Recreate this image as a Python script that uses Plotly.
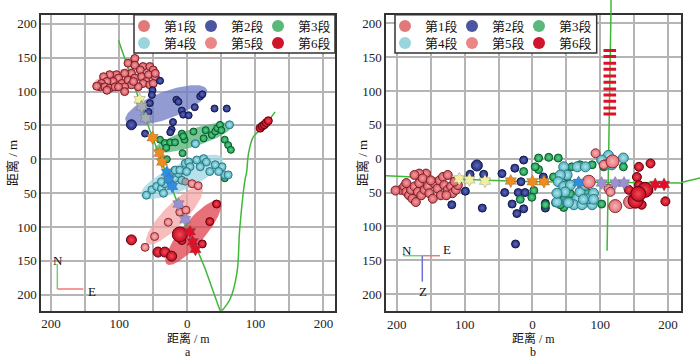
import numpy as np
import plotly.graph_objects as go

# ================= DATA =================
STAGES = ["第1段", "第2段", "第3段", "第4段", "第5段", "第6段"]

# ---- panel a (plan view), metres ----
a_well1_x = [-101, -96, -55, -16, 26, 49]
a_well1_y = [176, 161, 43, -60, -161, -226]
a_well2_x = [49, 63, 73, 77, 85, 87, 90, 97, 112, 129]
a_well2_y = [-226, -206, -167, -103, -29, -20, 9, 33, 48, 70]

a1_x = [-77, -87, -77, -65, -55, -50, -69, -82, -92, -104, -114, -123, -101, -109, -118, -126, -128, -121, -114, -106,
        -96, -87, -77, -67, -57, -47, -60, -65, -55, -50, -72, -82, -92, -101, -118, -92, -79, -47, -133]
a1_y = [149, 142, 139, 137, 137, 132, 132, 127, 127, 125, 125, 122, 120, 115, 115, 112, 107, 107, 105, 107,
        112, 117, 120, 122, 125, 122, 115, 112, 110, 112, 107, 110, 107, 107, 102, 100, 115, 127, 108]
a2_x = [-40, -51, -52, -55, -57, -62, -16, -13, 19, 22, 11, -8, -6, 2, -21, -23, -25, 40, 58]
a2_y = [116, 102, 95, 83, 70, 38, 88, 85, 93, 96, 77, 72, 66, 65, 55, 44, 40, 75, 75]
a2_big_x = [-82]
a2_big_y = [51]
a3_x = [-40, -33, -25, -18, -8, -4, -7, 9, 11, 24, 27, 36, 41, 44, 48, 50, 55, 60, 64, -31, -30, 55, -6]
a3_y = [29, 24, 25, 25, 38, 29, 9, 41, 23, 31, 43, 36, 41, 46, 51, 43, 29, 21, 14, 17, 0, -28, 34]
a4_x = [-60, -52, -45, -38, -33, -38, -25, -18, -13, -18, -11, -3, 2, 14, 24, 28, 19, 33, 51, 55,
        41, 4, -1, -8, -35, 46, 60, 12, 62]
a4_y = [-53, -45, -40, -43, -36, -33, -31, -28, -21, -16, -16, -6, -4, -1, 1, -4, -11, -18, -11, -23,
        -8, -11, -18, -31, -50, -18, -23, 23, 51]
a_grey_x = [-3]
a_grey_y = [-33]
a5_x = [-11, -2, -28, -48, -62, 7, 16]
a5_y = [-78, -75, -93, -114, -130, -36, -39]
a6_x = [43, 33, 22, -8, 107, 110, 113, 116, 119]
a6_y = [-66, -92, -125, -120, 46, 49, 51, 54, 57]
a6_big_x = [-82, -43, -33, -23]
a6_big_y = [-119, -137, -137, -143]
a6_huge_x = [-11]
a6_huge_y = [-111]

# ellipses per stage: centre x, centre y, semi-major, semi-minor, angle (deg)
a_ell_cx = [-91, -31, 9, -8, -19, 9]
a_ell_cy = [120, 80, 32, -26, -83, -108]
a_ell_a = [49, 64, 60, 66, 58, 61]
a_ell_b = [14, 20, 13, 19, 16, 17]
a_ell_ang = [13, 21, 18, 25, 46, 50]

# perforation clusters along the well (panel a)
a_star_yellow_x, a_star_yellow_y = [-70], [88]
a_star_grey_x, a_star_grey_y = [-67, -61], [78, 61]
a_star_orange_x, a_star_orange_y = [-51, -41, -37], [32, 9, -4]
a_star_blue_x, a_star_blue_y = [-30, -27, -22], [-19, -30, -40]
a_star_purple_x, a_star_purple_y = [-13, -3], [-66, -89]
a_star_red_x, a_star_red_y = [4, 8, 12], [-107, -122, -133]

# ---- panel b (vertical section), metres ----
b_well1_x = [-216, -177, -120, -68, 6, 219]
b_well1_y = [-25, -27, -29, -32, -34, -36]
b_well2_x = [116, 110]
b_well2_y = [234, -136]
b_perf_x = [114] * 11
b_perf_y = [160, 151, 141, 132, 122, 113, 103, 94, 85, 75, 66]

b1_x = [-194, -189, -186, -182, -177, -172, -179, -174, -169, -167, -164, -159, -154, -152, -147, -145, -140, -137,
        -132, -130, -125, -125, -120, -118, -113, -110, -157, -167, -174, -135, -127, -186, -162, -150, -115, -202]
b1_y = [-46, -41, -49, -54, -59, -64, -46, -41, -49, -36, -54, -46, -41, -51, -59, -36, -44, -32,
        -27, -39, -24, -46, -41, -51, -46, -39, -22, -22, -24, -54, -54, -36, -29, -32, -34, -47]
b2_x = [-92, -72, -45, -26, -13, -99, -119, -74, -41, -30, -23, -25, -13, -21, -11, 19, 37, 16, -17, 19]
b2_y = [-23, -23, -22, -14, -2, -48, -68, -73, -50, -67, -81, -126, -74, -50, -50, -73, -52, -27, -34, -66]
b2_big_x = [-82]
b2_big_y = [-10]
b3_x = [-13, 9, 24, 38, 9, 48, 58, 70, 88, 105, 134, 2, -18, -1, 19, 34, 46, 46, 56, 80, 102, 60, 4, 31, 51, 75, 41]
b3_y = [-19, 1, 2, 1, -16, -17, -12, -9, -9, -12, -12, -47, -60, -57, -68, -65, -72, -60, -52, -50, -67, -67,
        -12, -27, -27, -61, -68]
b4_x = [46, 51, 41, 38, 46, 56, 66, 78, 112, 134, 117, 66, 51, 36, 61, 73, 88, 83, 48, 36, 70, 78, 90, 102, 107,
        53, 75, 90]
b4_y = [-12, -24, -24, -34, -41, -39, -12, -12, 5, 1, -9, -59, -64, -64, -68, -68, -68, -59, -49, -51, -49, -39,
        -51, -2, -9, -65, -60, -60]
b5_x = [93, 105, 112, 115]
b5_y = [8, -9, -44, -49]
b5_big_x = [118, 83, 122, 144]
b5_big_y = [-4, -34, -70, -64]
b6_x = [157, 174, 154, 157, 161, 196, 142, 171]
b6_y = [-12, -7, -27, -39, -68, -63, -46, -47]
b6_big_x = [166, 152, 156]
b6_big_y = [-46, -62, -52]

b_star_yellow_x, b_star_yellow_y = [-108, -93, -70], [-30, -31, -33]
b_star_orange_x, b_star_orange_y = [-32, 0, 17], [-33, -34, -34]
b_star_blue_x, b_star_blue_y = [68], [-35]
b_star_purple_x, b_star_purple_y = [102, 122, 135], [-36, -36, -36]
b_star_red_x, b_star_red_y = [181, 194], [-38, -38]

xtick_vals = [-200, -150, -100, -50, 0, 50, 100, 150, 200]
xtick_text = ["200", "", "100", "", "0", "", "100", "", "200"]
ytick_vals = [-200, -150, -100, -50, 0, 50, 100, 150, 200]
ytick_text = ["200", "150", "100", "50", "0", "50", "100", "150", "200"]

# ================= STYLE =================
FONT = "Liberation Serif, Noto Sans CJK SC, serif"
W, H = 700, 358

# (edge/base colour, highlight colour, outline colour)
STAGE_STYLE = [
    ("#d45560", "#f4a0a0", "#7a1e28"),
    ("#242e7c", "#5c68ba", "#12184c"),
    ("#17984e", "#60d08c", "#0b5a2c"),
    ("#52b2c0", "#b0e6ec", "#2a7a84"),
    ("#e2707a", "#f8b4b4", "#8a2a34"),
    ("#c40a20", "#f24a56", "#640010"),
]
LEGEND_COLORS = ["#e07a7a", "#4a56a0", "#5ab87a", "#9ad4dc", "#ea8686", "#d0142c"]
ELL_COLORS = ["rgba(244,170,170,0.75)", "rgba(110,122,195,0.75)", "rgba(80,178,115,0.75)",
              "rgba(160,214,228,0.75)", "rgba(244,160,160,0.7)", "rgba(224,64,76,0.75)"]


def px(x):
    return x / W


def py(y):
    return 1 - y / H


fig = go.Figure()


def ellipse(cx, cy, a, b, ang):
    t = np.linspace(0, 2 * np.pi, 120)
    th = np.deg2rad(ang)
    ex = cx + a * np.cos(t) * np.cos(th) - b * np.sin(t) * np.sin(th)
    ey = cy + a * np.cos(t) * np.sin(th) + b * np.sin(t) * np.cos(th)
    return ex, ey


def pts(x, y, stage, size, xa, ya):
    base, hi, line = STAGE_STYLE[stage]
    fig.add_trace(go.Scatter(
        x=x, y=y, mode="markers", xaxis=xa, yaxis=ya, showlegend=False, hoverinfo="skip",
        marker=dict(size=size, color=base, gradient=dict(type="radial", color=hi),
                    line=dict(color=line, width=1))))


def stars(x, y, color, xa, ya):
    fig.add_trace(go.Scatter(
        x=x, y=y, mode="markers", xaxis=xa, yaxis=ya, showlegend=False, hoverinfo="skip",
        marker=dict(symbol="hexagram", size=10, color=color, line=dict(color="rgba(80,80,80,0.5)", width=0.6))))


WELL = dict(color="#3fb838", width=1.5)

# ---------- panel a ----------
for i in range(6):
    ex, ey = ellipse(a_ell_cx[i], a_ell_cy[i], a_ell_a[i], a_ell_b[i], a_ell_ang[i])
    fig.add_trace(go.Scatter(x=ex, y=ey, mode="lines", fill="toself", fillcolor=ELL_COLORS[i],
                             line=dict(width=0), xaxis="x", yaxis="y", showlegend=False, hoverinfo="skip"))
fig.add_trace(go.Scatter(x=a_well1_x, y=a_well1_y, mode="lines", line=WELL, xaxis="x", yaxis="y",
                         showlegend=False, hoverinfo="skip"))
fig.add_trace(go.Scatter(x=a_well2_x, y=a_well2_y, mode="lines", line=dict(WELL, shape="spline"),
                         xaxis="x", yaxis="y", showlegend=False, hoverinfo="skip"))
pts(a1_x, a1_y, 0, 8, "x", "y")
pts(a2_x, a2_y, 1, 7, "x", "y")
pts(a2_big_x, a2_big_y, 1, 10, "x", "y")
pts(a3_x, a3_y, 2, 7, "x", "y")
pts(a4_x, a4_y, 3, 8, "x", "y")
fig.add_trace(go.Scatter(x=a_grey_x, y=a_grey_y, mode="markers", xaxis="x", yaxis="y", showlegend=False,
                         marker=dict(size=7, color="#9aa0a4", line=dict(color="#666", width=1))))
pts(a5_x, a5_y, 4, 8, "x", "y")
pts(a6_x, a6_y, 5, 8, "x", "y")
pts(a6_big_x, a6_big_y, 5, 10, "x", "y")
pts(a6_huge_x, a6_huge_y, 5, 15, "x", "y")
stars(a_star_yellow_x, a_star_yellow_y, "#f2f0a0", "x", "y")
stars(a_star_grey_x, a_star_grey_y, "#a6adb4", "x", "y")
stars(a_star_orange_x, a_star_orange_y, "#f08c1e", "x", "y")
stars(a_star_blue_x, a_star_blue_y, "#2e8ee2", "x", "y")
stars(a_star_purple_x, a_star_purple_y, "#9a90d2", "x", "y")
stars(a_star_red_x, a_star_red_y, "#e0102a", "x", "y")

# ---------- panel b ----------
fig.add_trace(go.Scatter(x=b_well1_x, y=b_well1_y, mode="lines", line=WELL, xaxis="x2", yaxis="y2",
                         showlegend=False, hoverinfo="skip"))
fig.add_trace(go.Scatter(x=b_well2_x, y=b_well2_y, mode="lines", line=WELL, xaxis="x2", yaxis="y2",
                         showlegend=False, hoverinfo="skip"))
fig.add_trace(go.Scatter(x=b_perf_x, y=b_perf_y, mode="markers", xaxis="x2", yaxis="y2", showlegend=False,
                         hoverinfo="skip",
                         marker=dict(symbol="line-ew", size=9, line=dict(color="#e0102a", width=3))))
pts(b1_x, b1_y, 0, 9, "x2", "y2")
pts(b2_x, b2_y, 1, 8, "x2", "y2")
pts(b2_big_x, b2_big_y, 1, 11, "x2", "y2")
pts(b3_x, b3_y, 2, 8, "x2", "y2")
pts(b4_x, b4_y, 3, 10, "x2", "y2")
pts(b5_x, b5_y, 4, 9, "x2", "y2")
pts(b5_big_x, b5_big_y, 4, 13, "x2", "y2")
pts(b6_x, b6_y, 5, 9, "x2", "y2")
pts(b6_big_x, b6_big_y, 5, 15, "x2", "y2")
stars(b_star_yellow_x, b_star_yellow_y, "#f2f0a0", "x2", "y2")
stars(b_star_orange_x, b_star_orange_y, "#f08c1e", "x2", "y2")
stars(b_star_blue_x, b_star_blue_y, "#2e8ee2", "x2", "y2")
stars(b_star_purple_x, b_star_purple_y, "#9a90d2", "x2", "y2")
stars(b_star_red_x, b_star_red_y, "#e0102a", "x2", "y2")

# ---------- legends (dummy entries; a blank spacer keeps the last label unclipped) ----------
legend_names = [["legend", "legend2"], ["legend3", "legend4"]]
for p, (xa, ya) in enumerate([("x", "y"), ("x2", "y2")]):
    for row in range(2):
        for i in range(row * 3, row * 3 + 3):
            fig.add_trace(go.Scatter(x=[None], y=[None], mode="markers", name=STAGES[i], xaxis=xa, yaxis=ya,
                                     legend=legend_names[p][row],
                                     marker=dict(size=12, color=LEGEND_COLORS[i])))
        fig.add_trace(go.Scatter(x=[None], y=[None], mode="markers", name=" ", xaxis=xa, yaxis=ya,
                                 legend=legend_names[p][row],
                                 marker=dict(size=12, color="rgba(0,0,0,0)")))

leg_common = dict(orientation="h", bgcolor="rgba(0,0,0,0)", borderwidth=0,
                  font=dict(family=FONT, size=13, color="#111"), itemsizing="constant",
                  entrywidth=22, entrywidthmode="pixels", xanchor="left", yanchor="middle",
                  itemclick=False, itemdoubleclick=False)
fig.update_layout(
    legend=dict(leg_common, x=px(124), y=py(26)),
    legend2=dict(leg_common, x=px(124), y=py(43)),
    legend3=dict(leg_common, x=px(385), y=py(26)),
    legend4=dict(leg_common, x=px(385), y=py(43)),
)

# ---------- axes ----------
axis_common = dict(showline=True, linecolor="#333", linewidth=1.5, mirror=True, showgrid=True,
                   gridcolor="#b4b4b4", gridwidth=1.5, zeroline=False, ticks="", automargin=False,
                   tickfont=dict(family=FONT, size=13, color="#222"))
fig.update_layout(
    xaxis=dict(axis_common, domain=[px(41), px(335)], range=[-214.8, 216.9], anchor="y",
               tickvals=xtick_vals, ticktext=xtick_text),
    yaxis=dict(axis_common, domain=[py(310.7), py(14.7)], range=[-223.6, 213.6], anchor="x",
               tickvals=ytick_vals, ticktext=ytick_text),
    xaxis2=dict(axis_common, domain=[px(386), px(681)], range=[-216, 219], anchor="y2",
                tickvals=xtick_vals, ticktext=xtick_text),
    yaxis2=dict(axis_common, domain=[py(311.3), py(14.7)], range=[-225.4, 212.7], anchor="x2",
                tickvals=ytick_vals, ticktext=ytick_text),
)

# ---------- shapes: legend boxes, compasses, well overflow ----------
shapes = [
    dict(type="rect", xref="paper", yref="paper", x0=px(134), x1=px(335), y0=py(53), y1=py(14.7),
         line=dict(color="#333", width=1.5), fillcolor="white", layer="above"),
    dict(type="rect", xref="paper", yref="paper", x0=px(395), x1=px(596.7), y0=py(53), y1=py(14.7),
         line=dict(color="#333", width=1.5), fillcolor="white", layer="above"),
    # compass a
    dict(type="line", xref="paper", yref="paper", x0=px(57.3), x1=px(57.3), y0=py(264), y1=py(289),
         line=dict(color="#7cd070", width=1.5)),
    dict(type="line", xref="paper", yref="paper", x0=px(57.3), x1=px(83.3), y0=py(289), y1=py(289),
         line=dict(color="#f07878", width=1.5)),
    # compass b
    dict(type="line", xref="paper", yref="paper", x0=px(403.3), x1=px(422.7), y0=py(255.7), y1=py(255.7),
         line=dict(color="#7cd070", width=1.5)),
    dict(type="line", xref="paper", yref="paper", x0=px(422.7), x1=px(440), y0=py(255.7), y1=py(255.7),
         line=dict(color="#f07878", width=1.5)),
    dict(type="line", xref="paper", yref="paper", x0=px(422.3), x1=px(422.3), y0=py(255.7), y1=py(281.7),
         line=dict(color="#7070d0", width=1.5)),
    # well continuing past panel b frame
    dict(type="line", xref="paper", yref="paper", x0=px(611), x1=px(611), y0=py(0), y1=py(14.7),
         line=WELL),
    dict(type="line", xref="paper", yref="paper", x0=px(681), x1=px(700), y0=py(182.5), y1=py(178),
         line=WELL),
]

ann_font = dict(family=FONT, size=13, color="#111")
small_font = dict(family=FONT, size=12, color="#111")


def ann(text, x, y, angle=0, font=ann_font):
    return dict(text=text, x=px(x), y=py(y), xref="paper", yref="paper", showarrow=False, font=font,
                xanchor="center", yanchor="middle", textangle=angle)


annotations = [
    ann("距离 / m", 188, 338.5, font=small_font), ann("a", 188, 352, font=small_font),
    ann("距离 / m", 533, 338.5, font=small_font), ann("b", 533, 352, font=small_font),
    ann("距离 / m", 12, 163, -90), ann("距离 / m", 362, 163, -90),
    ann("N", 58, 260), ann("E", 92, 291.5),
    ann("N", 406.7, 250), ann("E", 446.7, 249), ann("Z", 422.7, 291),
]

fig.update_layout(
    width=W, height=H, margin=dict(l=0, r=0, t=0, b=0),
    paper_bgcolor="white", plot_bgcolor="white",
    shapes=shapes, annotations=annotations,
    font=dict(family=FONT, size=13, color="#111"),
)

fig.write_html("out.html", config={"displayModeBar": False},
               post_script="document.body.style.margin='0';document.body.style.overflow='hidden';")
